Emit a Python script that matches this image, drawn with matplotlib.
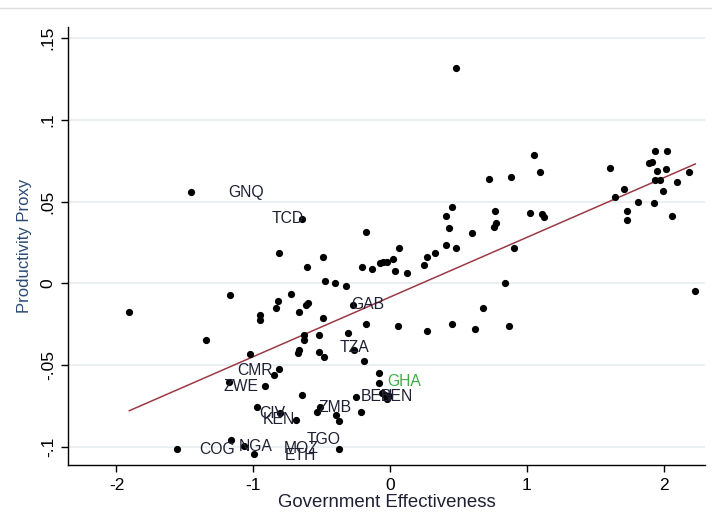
import matplotlib
matplotlib.use("Agg")
import matplotlib.pyplot as plt
import numpy as np

# ---------------- data ----------------
gov_eff = [
    -1.906, -1.455, -1.343, -1.172, -1.023, -0.948, -0.948, -0.809, -0.846, -1.175,
    -0.912, -0.821, -0.836, -0.811, -0.724, -0.641, -0.609, -0.488, -0.665, -0.603,
    -0.614, -0.493, -0.473, -0.404, -0.325, -0.629, -0.630, -0.517, -0.662, -0.676,
    -0.517, -0.482, -0.305, -0.268, -0.179, 0.061, 0.273, -0.265, -0.190, -0.077,
    -0.077, -0.641, -0.246, -0.062, -0.039, -0.022, -0.007, -0.970, -0.804, -0.689,
    -0.515, -0.537, -0.213, -0.395, -0.371, -1.166, -1.559, -1.071, -0.992, -0.371,
    -0.178, -0.202, -0.134, -0.073, -0.049, -0.024, 0.024, 0.037, 0.068, 0.126,
    0.250, 0.273, 0.329, 0.409, 0.479, 0.409, 0.453, 0.433, 0.599, 0.726,
    0.885, 0.771, 0.773, 0.760, 0.908, 0.841, 0.681, 0.453, 0.621, 0.870,
    0.479, 1.054, 1.100, 1.023, 1.111, 1.124, 1.608, 1.645, 1.712, 1.735,
    1.735, 1.813, 1.890, 1.915, 1.939, 2.027, 1.950, 2.019, 1.934, 1.972,
    2.096, 2.187, 1.927, 1.996, 2.063, 2.232,
]
productivity = [
    -0.0176, 0.0557, -0.0347, -0.0072, -0.0431, -0.0194, -0.0225, -0.0524, -0.0563, -0.0604,
    -0.0629, -0.0110, -0.0151, 0.0184, -0.0064, 0.0395, 0.0098, 0.0163, -0.0176, -0.0121,
    -0.0133, -0.0214, 0.0012, 0.0002, -0.0015, -0.0315, -0.0347, -0.0316, -0.0411, -0.0428,
    -0.0420, -0.0449, -0.0307, -0.0133, -0.0251, -0.0259, -0.0290, -0.0408, -0.0477, -0.0551,
    -0.0608, -0.0684, -0.0693, -0.0670, -0.0681, -0.0710, -0.0690, -0.0759, -0.0791, -0.0834,
    -0.0759, -0.0788, -0.0788, -0.0803, -0.0843, -0.0959, -0.1016, -0.0993, -0.1045, -0.1016,
    0.0314, 0.0098, 0.0088, 0.0124, 0.0129, 0.0132, 0.0147, 0.0075, 0.0216, 0.0066,
    0.0112, 0.0161, 0.0188, 0.0234, 0.0216, 0.0412, 0.0470, 0.0338, 0.0311, 0.0640,
    0.0651, 0.0442, 0.0369, 0.0347, 0.0216, -0.0001, -0.0151, -0.0251, -0.0280, -0.0261,
    0.1315, 0.0783, 0.0679, 0.0433, 0.0426, 0.0404, 0.0708, 0.0529, 0.0575, 0.0444,
    0.0386, 0.0499, 0.0736, 0.0744, 0.0811, 0.0811, 0.0689, 0.0698, 0.0630, 0.0630,
    0.0622, 0.0679, 0.0490, 0.0567, 0.0415, -0.0050,
]

# labelled countries: index of the point they belong to
label_names = ["GNQ", "TCD", "GAB", "TZA", "CMR", "ZWE", "GHA", "BEN", "BEN",
               "ZMB", "CIV", "KEN", "TGO", "COG", "NGA", "MOZ", "ETH"]
label_point = [1, 15, 33, 37, 8, 9, 40, 42, 46, 50, 48, 49, 59, 56, 57, 58, 58]

# linear fit
fit_intercept = -0.0084
fit_slope = 0.0365

x_ticks = [-2, -1, 0, 1, 2]
x_ticklabels = ["-2", "-1", "0", "1", "2"]
y_ticks = [-0.1, -0.05, 0, 0.05, 0.1, 0.15]
y_ticklabels = ["-.1", "-.05", "0", ".05", ".1", ".15"]

# ---------------- layout / styling ----------------
label_offsets_px = [(55, 0), (-15, 0), (14, -1), (1, -2), (-19, -5), (12, 4),
                    (25, -1), (21, 0), (8, 0), (16, 0), (-8, 1), (-17, 0),
                    (-16, -10), (40, 0), (12, 1), (47, -6), (46, 1)]
label_colors = ["#1f2033"] * len(label_names)
label_colors[6] = "#3fae49"

plt.rcParams["font.family"] = ["Liberation Sans", "DejaVu Sans"]

fig = plt.figure(figsize=(7.12, 5.31), dpi=100)
W, H = 712, 531
left, right, top, bottom = 68.3, 705, 27, 465
ax = fig.add_axes([left / W, 1 - bottom / H, (right - left) / W, (bottom - top) / H])

x = np.array(gov_eff)
y = np.array(productivity)

for yt in y_ticks:
    ax.axhline(yt, color="#e6eef0", lw=1.2, zorder=0)

xf = np.array([x.min(), x.max()])
ax.plot(xf, fit_intercept + fit_slope * xf, color="#9b3a44", lw=1.1, zorder=2)

ax.scatter(x, y, s=27, color="black", zorder=3, linewidths=0)

for name, idx, (dx, dy), col in zip(label_names, label_point, label_offsets_px, label_colors):
    ax.annotate(name, (x[idx], y[idx]), xytext=(dx, -dy), textcoords="offset pixels",
                ha="center", va="center", fontsize=11.3, color=col, zorder=4)

ax.set_xlim(-2.352, 2.303)
ax.set_ylim(-0.1112, 0.1569)
ax.set_xticks(x_ticks)
ax.set_xticklabels(x_ticklabels)
ax.set_yticks(y_ticks)
ax.set_yticklabels(y_ticklabels, rotation=90, va="center")

for s in ["top", "right"]:
    ax.spines[s].set_visible(False)
for s in ["left", "bottom"]:
    ax.spines[s].set_color("black")
    ax.spines[s].set_linewidth(1.0)

ax.tick_params(axis="both", direction="out", length=5, width=1, colors="black",
               labelsize=12.5, pad=4)
ax.set_xlabel("Government Effectiveness", fontsize=13.4, color="#1f2033", labelpad=1)
ax.set_ylabel("Productivity Proxy", fontsize=12, color="#2a4a75", labelpad=6)

# faint outer frame line at the top
fig.add_artist(plt.Line2D([0, 1], [1 - 7.5 / H, 1 - 7.5 / H], transform=fig.transFigure,
                          color="#dddddd", lw=1))

fig.savefig("out.png", dpi=100)
